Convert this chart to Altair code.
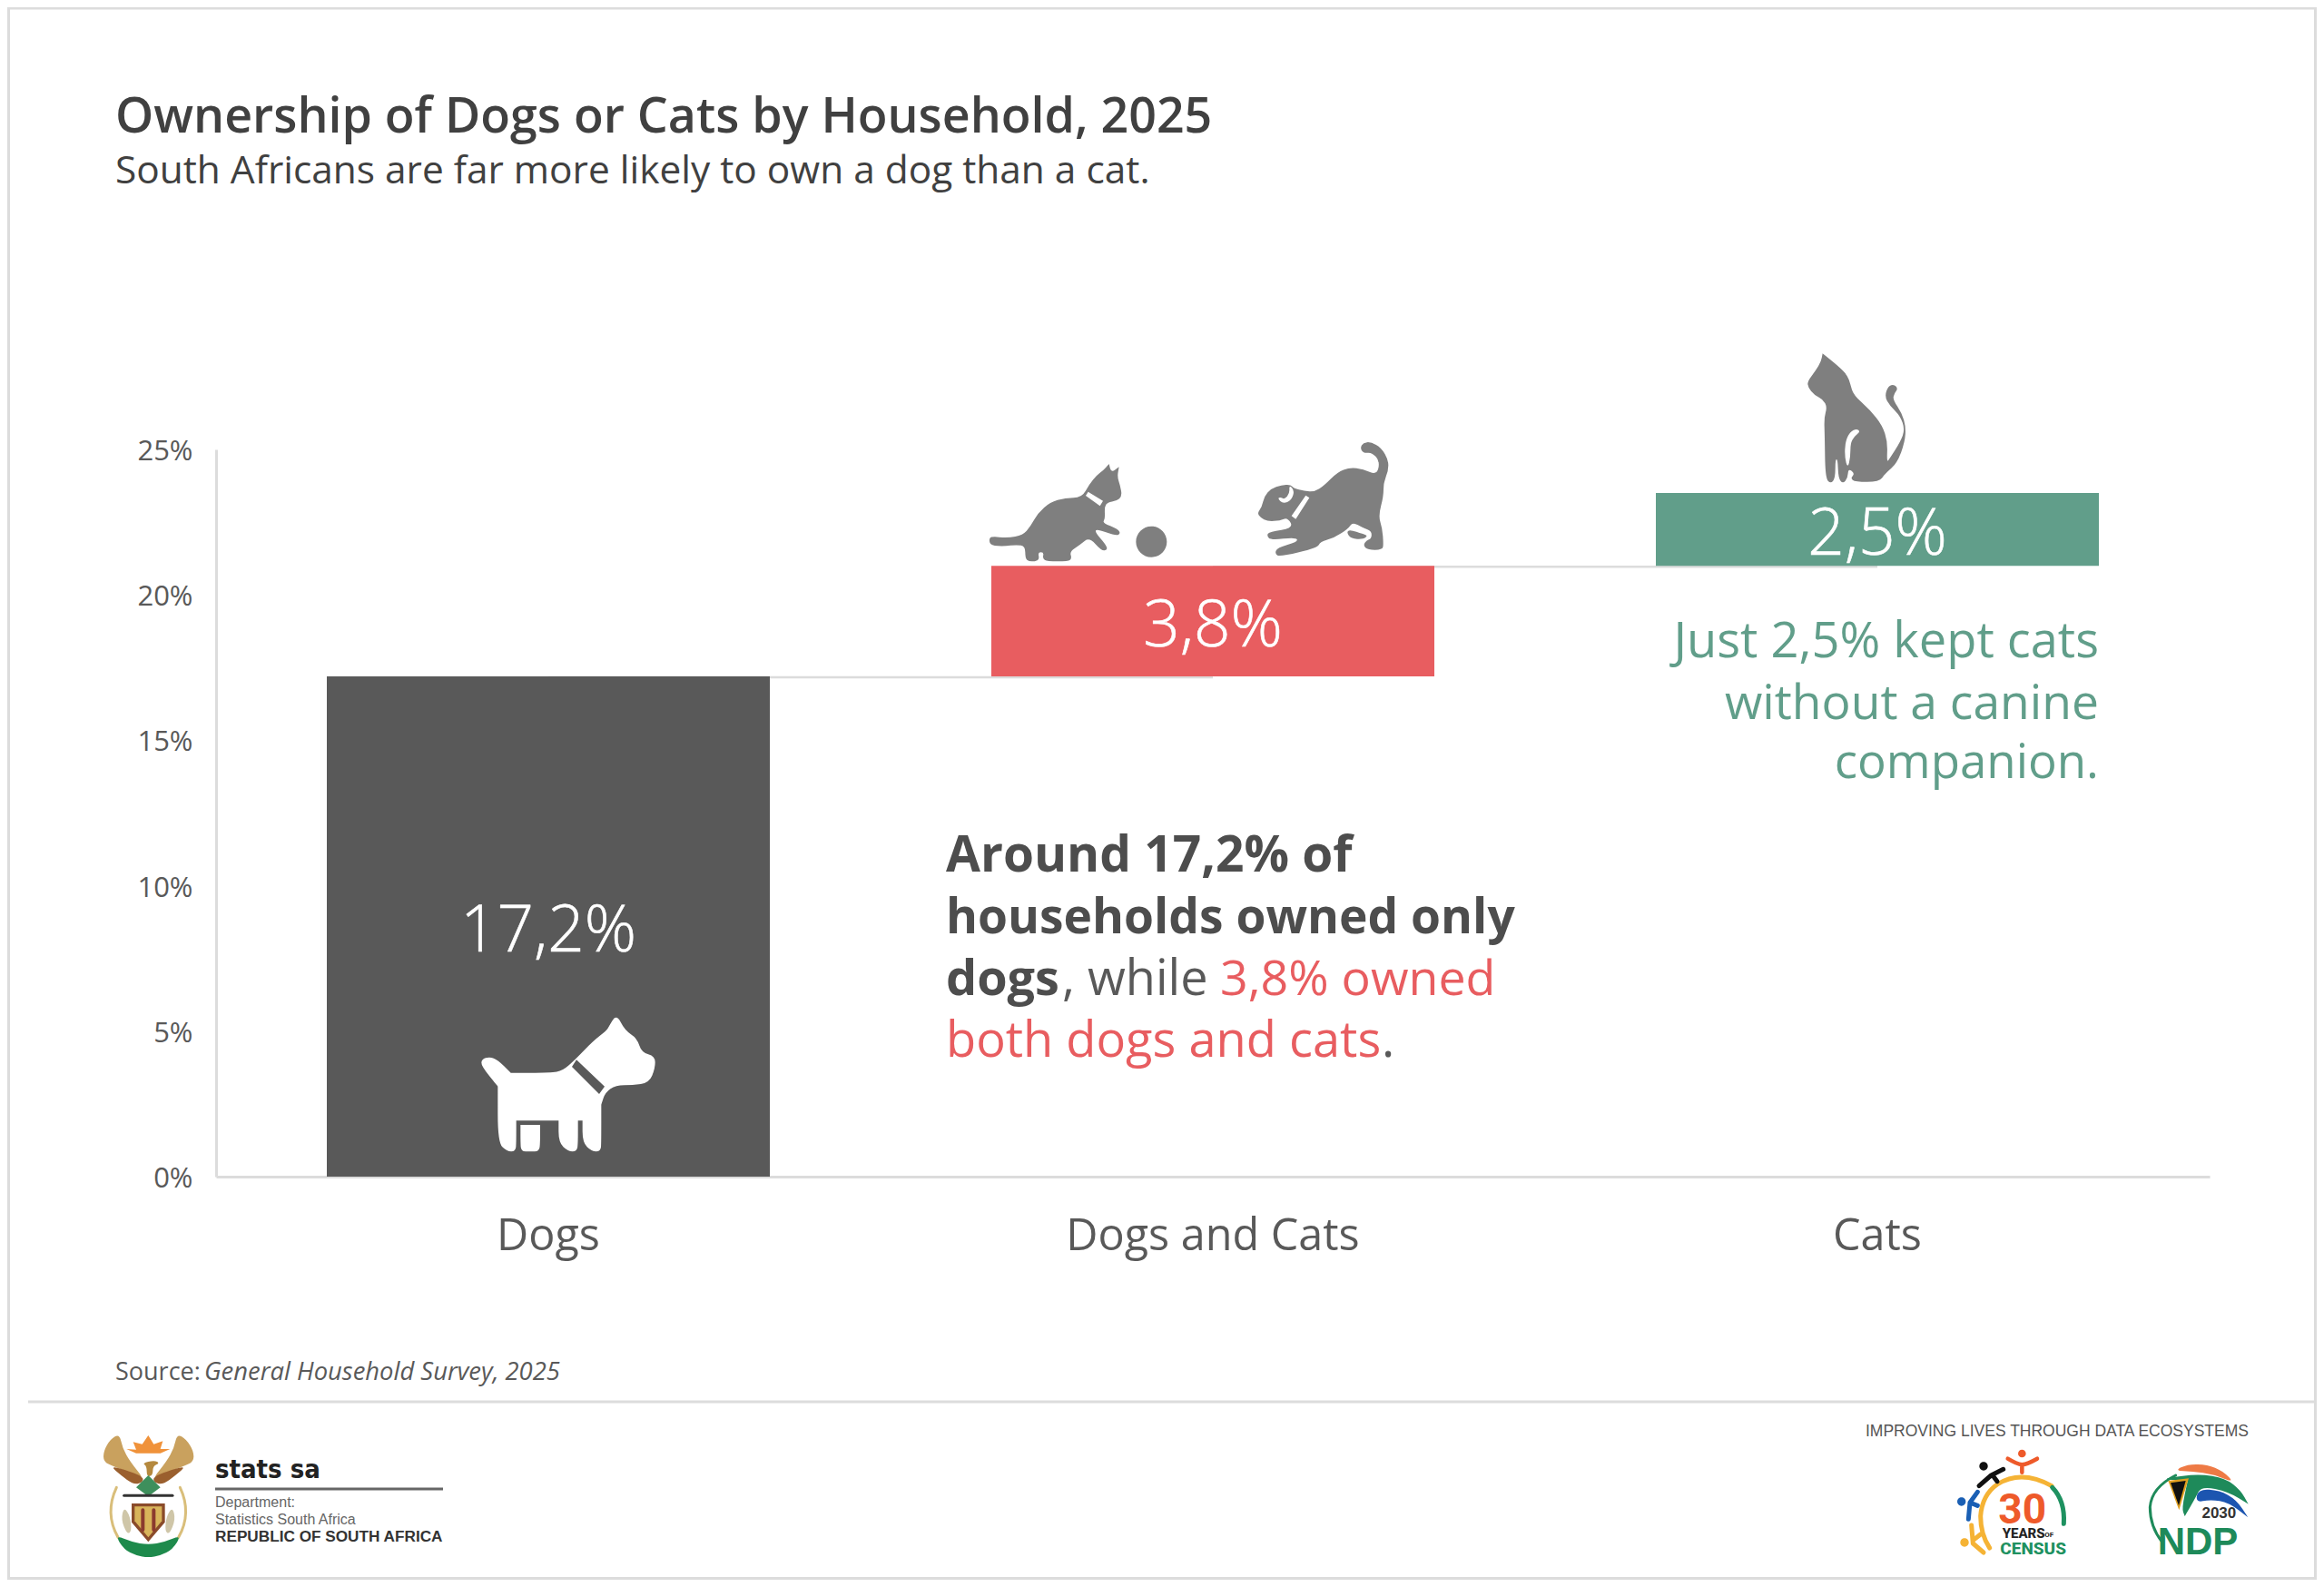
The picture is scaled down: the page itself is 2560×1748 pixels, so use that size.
import altair as alt
import pandas as pd

# ---------- data ----------
categories = ["Dogs", "Dogs and Cats", "Cats"]
values = [17.2, 3.8, 2.5]
starts = [0.0, 17.2, 21.0]
labels = ["17,2%", "3,8%", "2,5%"]
bar_colors = ["#595959", "#E85D60", "#619E8A"]
y_ticks = [0, 5, 10, 15, 20, 25]
connector_levels = [17.2, 21.0]

FONT = "Open Sans"
GREY = "#595959"
DARK = "#404040"
RULE = "#DCDCDC"
ICON = "#7F7F7F"
TEAL = "#619E8A"
RED = "#E85D60"

# reference-pixel position of the plot area
X0, Y0 = 238, 495
PW, PH = 2196, 801
CW, CH = 2544, 1732


def mid(a, b):
    return ((a[0] + b[0]) / 2, (a[1] + b[1]) / 2)


def smooth(pts):
    n = len(pts)
    s = mid(pts[-1], pts[0])
    out = f"M{s[0]} {s[1]}"
    for i, p in enumerate(pts):
        m = mid(p, pts[(i + 1) % n])
        out += f"Q{p[0]} {p[1]} {m[0]} {m[1]}"
    return out + "Z"


def poly(pts, close=True):
    out = "M" + "L".join(f"{p[0]} {p[1]}" for p in pts)
    return out + ("Z" if close else "")


def circle(cx, cy, r):
    k = r * 0.5523
    return (f"M{cx-r} {cy}C{cx-r} {cy-k} {cx-k} {cy-r} {cx} {cy-r}"
            f"C{cx+k} {cy-r} {cx+r} {cy-k} {cx+r} {cy}"
            f"C{cx+r} {cy+k} {cx+k} {cy+r} {cx} {cy+r}"
            f"C{cx-k} {cy+r} {cx-r} {cy+k} {cx-r} {cy}Z")


one = pd.DataFrame({"n": [0]})


def shape(path, ox, oy, color):
    return alt.Chart(one).mark_point(
        shape=path, size=4 / 9, filled=True, color=color, opacity=1, strokeWidth=0
    ).encode(x=alt.value(ox - X0), y=alt.value(oy - Y0))


def line(path, ox, oy, color, w):
    return alt.Chart(one).mark_point(
        shape=path, size=4 / 9, filled=False, color=color, opacity=1,
        strokeWidth=w, strokeCap="round", strokeJoin="round"
    ).encode(x=alt.value(ox - X0), y=alt.value(oy - Y0))


def txt(s, x, y, size, color=GREY, weight=400, align="left", style="normal",
        font=FONT, base="alphabetic"):
    return alt.Chart(one).mark_text(
        text=s, fontSize=size, color=color, fontWeight=weight, align=align,
        fontStyle=style, font=font, baseline=base
    ).encode(x=alt.value(x - X0), y=alt.value(y - Y0))


def rule(x1, y1, x2, y2, color, w):
    return alt.Chart(one).mark_rule(color=color, strokeWidth=w).encode(
        x=alt.value(x1 - X0), x2=alt.value(x2 - X0),
        y=alt.value(y1 - Y0), y2=alt.value(y2 - Y0))


# ---------- icons ----------
DOG_WHITE = smooth([(570, 672), (572, 650), (598, 642), (625, 652), (668, 695), (668, 695), (800, 695), (840, 688),
                    (880, 652), (940, 590), (985, 555), (990, 545), (1017, 500), (1045, 555), (1085, 580),
                    (1100, 628), (1145, 640), (1145, 680), (1125, 728), (1070, 736), (1015, 736), (980, 760),
                    (967, 800), (967, 800), (967, 925), (965, 955), (935, 955), (905, 925), (905, 853), (905, 853),
                    (890, 853), (890, 853), (890, 925), (887, 955), (857, 955), (826, 925), (826, 853), (826, 853),
                    (686, 853), (686, 853), (686, 925), (684, 955), (655, 955), (625, 925), (625, 740), (625, 740)])
DOG_WHITE += poly([(885, 652), (870, 675), (960, 765), (978, 740)])
DOG_WHITE += smooth([(700, 867), (700, 867), (765, 867), (765, 867), (765, 925), (762, 955), (732, 955), (702, 955), (700, 925)])

CAT_PLAY = smooth([(28, 285), (35, 272), (90, 278), (140, 268), (165, 240), (190, 195), (230, 160), (280, 145),
                   (335, 145), (360, 100), (385, 70), (405, 55), (425, 33), (425, 33), (432, 62), (458, 43), (458, 43),
                   (452, 75), (462, 105), (468, 140), (450, 155), (420, 160), (410, 175), (412, 215), (403, 228),
                   (455, 248), (463, 265), (445, 270), (385, 248), (378, 258), (415, 300), (420, 318), (400, 320),
                   (360, 275), (330, 300), (295, 322), (302, 345), (290, 355), (220, 355), (205, 345), (210, 325),
                   (190, 325), (195, 348), (180, 355), (160, 355), (148, 345), (148, 305), (120, 300), (80, 305), (35, 303)])
CAT_PLAY += poly([(356, 125), (348, 138), (395, 172), (405, 155)])
CAT_PLAY += circle(565, 290, 51)

DOG_PLAY = smooth([(385, 55), (395, 38), (420, 35), (455, 55), (478, 95), (478, 130), (462, 170), (462, 215),
                   (445, 280), (458, 320), (462, 375), (458, 392), (410, 392), (395, 378), (405, 360), (422, 355),
                   (423, 330), (395, 320), (360, 300), (345, 322), (300, 352), (252, 365), (245, 385), (120, 415),
                   (103, 405), (110, 385), (180, 365), (172, 350), (90, 360), (76, 345), (85, 332), (165, 320),
                   (145, 285), (120, 295), (80, 298), (55, 285), (45, 270), (60, 250), (68, 215), (90, 190),
                   (125, 178), (155, 176), (165, 188), (200, 198), (235, 200), (265, 180), (310, 135), (350, 120),
                   (395, 125), (440, 145), (450, 100), (425, 70), (395, 72)])
DOG_PLAY += poly([(205, 212), (158, 280), (172, 290), (217, 220)])
DOG_PLAY += smooth([(150, 178), (152, 205), (135, 225), (122, 218), (112, 222), (130, 240), (158, 228), (168, 195)])
DOG_PLAY += smooth([(340, 335), (350, 325), (395, 340), (410, 345), (395, 357), (355, 355)])

CAT_SIT = smooth([(113, 28), (113, 28), (165, 70), (195, 100), (205, 130), (215, 165), (270, 215), (310, 265),
                  (328, 320), (325, 388), (335, 375), (370, 320), (385, 280), (370, 235), (335, 200), (318, 170),
                  (330, 135), (350, 130), (362, 145), (350, 160), (345, 180), (375, 225), (388, 270), (385, 320),
                  (360, 390), (320, 425), (300, 452), (220, 452), (205, 440), (220, 425), (198, 408), (196, 440),
                  (180, 458), (165, 440), (163, 378), (155, 378), (155, 440), (140, 458), (122, 440), (120, 300),
                  (118, 240), (128, 205), (115, 180), (85, 165), (65, 140), (63, 120), (90, 85), (108, 55)])
CAT_SIT += smooth([(225, 276), (203, 288), (188, 320), (186, 370), (196, 408), (205, 370), (205, 325), (218, 302), (238, 286)])

# ---------- main chart ----------
df = pd.DataFrame({"category": categories, "start": starts, "value": values,
                   "label": labels, "color": bar_colors})
df["end"] = df["start"] + df["value"]
df["mid"] = df["start"] + df["value"] / 2

x_axis = alt.Axis(labelAngle=0, labelAlign="center", labelBaseline="middle", labelLimit=800,
                  labelFont=FONT, labelFontSize=48.5, labelColor=GREY,
                  labelPadding=65, ticks=False, domainColor=RULE, domainWidth=3, grid=False)
y_axis = alt.Axis(values=y_ticks, labelExpr="datum.value + '%'", labelFont=FONT,
                  labelFontSize=31, labelColor=GREY, labelPadding=26, labelOffset=2.5, ticks=False,
                  domainColor=RULE, domainWidth=3, grid=False)
x_scale = alt.Scale(paddingInner=1 / 3, paddingOuter=1 / 6)
y_scale = alt.Scale(domain=[0, 25], nice=False)
x_enc = alt.X("category:N", sort=categories, title=None, scale=x_scale, axis=x_axis)


def y_enc(field):
    return alt.Y(field, title=None, scale=y_scale, axis=y_axis)


conn = pd.DataFrame({
    "category": [categories[0], categories[1], categories[1], categories[2]],
    "start": [connector_levels[0], connector_levels[0], connector_levels[1], connector_levels[1]],
    "seg": [0, 0, 1, 1],
})
connectors = alt.Chart(conn).mark_line(color=RULE, strokeWidth=2.5, yOffset=1.2).encode(
    x=x_enc, y=y_enc("start:Q"), detail="seg:N")

bars = alt.Chart(df).mark_bar().encode(
    x=x_enc, y=y_enc("start:Q"), y2="end:Q",
    color=alt.Color("color:N", scale=None, legend=None))

bar_text = alt.Chart(df).mark_text(
    font=FONT, fontSize=71, fontWeight=300, color="white", stroke="white", strokeWidth=0.6,
    baseline="middle", dy=7
).encode(x=x_enc, y=y_enc("mid:Q"), text="label:N")

layers = [connectors, bars, bar_text]

# icons
layers += [shape(DOG_WHITE, 340, 950, "white"),
           shape(CAT_PLAY, 1080, 500, ICON),
           shape(DOG_PLAY, 1370, 475, ICON),
           shape(CAT_SIT, 1970, 380, ICON)]

# titles
layers += [txt("Ownership of Dogs or Cats by Household, 2025", 127, 146, 53.7, DARK, 600),
           txt("South Africans are far more likely to own a dog than a cat.", 127, 202, 42.4, DARK, 400)]

# annotations
LX = 1042
layers += [txt("Around 17,2% of", LX, 960, 55, "#4D4D4D", 700),
           txt("households owned only", LX, 1028, 53.3, "#4D4D4D", 700),
           txt("dogs", LX, 1096, 54, "#4D4D4D", 700),
           txt(", while", 1170, 1096, 54, GREY, 400),
           txt("3,8% owned", 1344, 1096, 53.7, RED, 400),
           txt("both dogs and cats", LX, 1164, 54.2, RED, 400),
           txt(".", 1522, 1164, 54, GREY, 400)]
RX = 2312
layers += [txt("Just 2,5% kept cats", RX, 724, 54.2, TEAL, 400, "right"),
           txt("without a canine", RX, 792, 53.4, TEAL, 400, "right"),
           txt("companion.", RX, 857, 52.8, TEAL, 400, "right")]

# source + footer
layers += [txt("Source:", 127, 1520, 27, GREY),
           txt("General Household Survey, 2025", 225, 1520, 27.4, GREY, 400, style="italic"),
           rule(31, 1544, CW + 8, 1544, RULE, 3)]

SANS = "Liberation Sans"
layers += [txt("stats sa", 237, 1628, 29, "#222222", 700, font="DejaVu Sans Condensed"),
           rule(237, 1640, 488, 1640, "#666666", 3),
           txt("Department:", 237, 1660, 16, "#666666", font=SANS),
           txt("Statistics South Africa", 237, 1679, 16, "#666666", font=SANS),
           txt("REPUBLIC OF SOUTH AFRICA", 237, 1698, 17.2, "#333333", 700, font=SANS),
           txt("IMPROVING LIVES THROUGH DATA ECOSYSTEMS", 2477, 1582, 17.5, "#555555", align="right", font=SANS)]

# coat of arms, drawn from simple shapes
CX, CY = 100, 1570
layers += [
    line("M85 205Q45 290 90 370", CX, CY, "#D9BE7A", 3),
    line("M295 205Q335 290 290 370", CX, CY, "#D9BE7A", 3),
    shape(smooth([(95, 28), (65, 45), (42, 85), (42, 120), (75, 135), (150, 165), (175, 175), (130, 120), (105, 75)]), CX, CY, "#C9A15E"),
    shape(smooth([(285, 28), (315, 45), (340, 85), (340, 120), (305, 135), (230, 165), (205, 175), (250, 120), (275, 75)]), CX, CY, "#C9A15E"),
    shape(smooth([(65, 135), (100, 165), (140, 195), (170, 190), (175, 170), (110, 145)]), CX, CY, "#9A5F2E"),
    shape(smooth([(315, 135), (280, 165), (240, 195), (210, 190), (205, 170), (270, 145)]), CX, CY, "#9A5F2E"),
    shape(poly([(118, 78), (150, 80), (140, 55), (170, 62), (190, 33), (208, 62), (238, 52), (230, 78), (262, 78), (230, 92), (150, 92)]), CX, CY, "#F0923A"),
    shape(smooth([(170, 125), (210, 115), (228, 125), (205, 135), (205, 165), (185, 170), (185, 135)]), CX, CY, "#B5893E"),
    shape(poly([(150, 205), (190, 165), (230, 205), (190, 235)]), CX, CY, "#3E8F5C"),
    line("M110 232L270 232", CX, CY, "#333333", 3),
    shape(smooth([(110, 270), (130, 300), (135, 350), (120, 360), (100, 310)]), CX, CY, "#CFC6A8"),
    shape(smooth([(270, 270), (250, 300), (245, 350), (260, 360), (280, 310)]), CX, CY, "#CFC6A8"),
    shape(poly([(135, 258), (245, 258), (245, 320), (190, 385), (135, 320)]), CX, CY, "#8A4B2A"),
    shape(poly([(145, 268), (235, 268), (235, 316), (190, 370), (145, 316)]), CX, CY, "#D8B45A"),
    line("M172 280L172 345M208 280L208 345", CX, CY, "#8B3A2E", 4),
    shape(smooth([(80, 362), (135, 385), (190, 395), (245, 385), (300, 362), (270, 410), (230, 430), (190, 437), (150, 430), (110, 410)]), CX, CY, "#1E8A4C"),
]

# census logo
NX, NY = 2140, 1590
layers += [
    line("M155 345Q125 300 125 240Q130 170 180 135Q260 85 360 140", NX, NY, "#F5B335", 5),
    line("M362 145Q405 190 400 265", NX, NY, "#1E9160", 5),
    shape(circle(262, 33, 13), NX, NY, "#EE5A2A"),
    line("M215 50Q245 68 262 70Q280 68 312 50M262 70L262 95", NX, NY, "#EE5A2A", 4.5),
    shape(circle(135, 75, 14), NX, NY, "#111111"),
    line("M200 85L160 105L120 140M165 105L180 125", NX, NY, "#111111", 5),
    shape(circle(62, 192, 14), NX, NY, "#1A5FB4"),
    line("M115 160L90 195L85 250M90 195L115 205", NX, NY, "#1A5FB4", 5),
    shape(circle(72, 327, 14), NX, NY, "#F5B335"),
    line("M95 270L100 330L135 360M100 320L125 300", NX, NY, "#F5B335", 5),
    txt("30", NX + 263 / 3, NY + 265 / 3, 46, "#EE5A2A", 700, "center", font="Roboto"),
    txt("YEARS", NX + 197 / 3, NY + 312 / 3, 15, "#222222", 800, font="Roboto"),
    txt("OF", NX + 337 / 3, NY + 310 / 3, 8, "#222222", 700, font="Roboto"),
    txt("CENSUS", NX + 299 / 3, NY + 365 / 3, 19, "#1E9160", 800, "center", font="Roboto"),
]

# NDP logo
DX, DY = 2355, 1600
layers += [
    shape(smooth([(120, 60), (165, 38), (230, 40), (280, 60), (320, 100), (250, 72), (180, 62)]), DX, DY, "#EE7A45"),
    line("M125 75Q45 115 40 180Q40 245 80 295", DX, DY, "#1E8A5A", 3),
    shape(smooth([(95, 85), (95, 85), (200, 70), (290, 85), (340, 125), (365, 170), (365, 170), (300, 130), (210, 110),
                  (190, 150), (155, 210), (155, 210), (145, 185), (165, 90), (165, 90), (105, 90)]), DX, DY, "#1E8A5A"),
    shape(smooth([(200, 120), (270, 125), (325, 155), (365, 215), (365, 215), (300, 165), (240, 155), (190, 165)]), DX, DY, "#1C55B0"),
    shape(poly([(100, 93), (168, 85), (136, 190)]), DX, DY, "#E0A020"),
    shape(poly([(108, 100), (158, 93), (135, 175)]), DX, DY, "#111111"),
    txt("2030", DX + 268 / 3, DY + 215 / 3, 17, "#333333", 700, "center", font=SANS),
    txt("NDP", DX + 198 / 3, DY + 335 / 3, 42, "#1E8A5A", 700, "center", font=SANS),
]

# outer frame (as far out as the canvas reaches)
frame_w = 3
layers += [rule(8, 9, CW + 8, 9, RULE, frame_w),
           rule(CW + 6.5, 8, CW + 6.5, CH + 8, RULE, frame_w),
           rule(8, CH + 6.5, CW + 8, CH + 6.5, RULE, frame_w),
           rule(9.5, 8, 9.5, CH + 8, RULE, frame_w)]

chart = alt.layer(*layers).properties(
    width=PW, height=PH,
    autosize=alt.AutoSizeParams(type="none"),
    padding={"left": X0 - 8, "top": Y0 - 8, "right": CW - (X0 - 8) - PW, "bottom": CH - (Y0 - 8) - PH},
    background="white",
).configure_view(stroke=None)

chart.save("out.html", embed_options={"renderer": "svg", "actions": False})
